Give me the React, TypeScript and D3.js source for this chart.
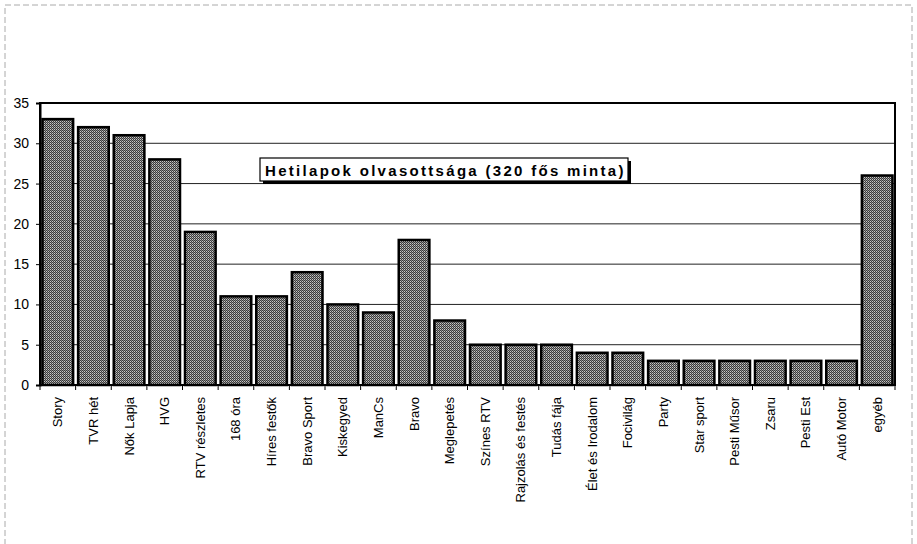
import { useEffect, useRef } from "react";
import * as d3 from "d3";

const categories = [
  "Story", "TVR hét", "Nők Lapja", "HVG", "RTV részletes", "168 óra",
  "Híres festők", "Bravo Sport", "Kiskegyed", "ManCs", "Bravo", "Meglepetés",
  "Színes RTV", "Rajzolás és festés", "Tudás fája", "Élet és Irodalom",
  "Focivilág", "Party", "Star sport", "Pesti Műsor", "Zsaru", "Pesti Est",
  "Autó Motor", "egyéb",
];
const readers = [33, 32, 31, 28, 19, 11, 11, 14, 10, 9, 18, 8, 5, 5, 5, 4, 4, 3, 3, 3, 3, 3, 3, 26];
const yTicks = [0, 5, 10, 15, 20, 25, 30, 35];
const title = "Hetilapok olvasottsága (320 fős minta)";

export default function App() {
  const ref = useRef<SVGSVGElement>(null);

  useEffect(() => {
    const width = 917, height = 544;
    const margin = { left: 40, right: 22, top: 103, bottom: 159 };
    const w = width - margin.left - margin.right;
    const h = height - margin.top - margin.bottom;

    const svg = d3.select(ref.current);
    svg.selectAll("*").remove();

    const defs = svg.append("defs");
    const pat = defs.append("pattern")
      .attr("id", "dither")
      .attr("width", 2).attr("height", 2)
      .attr("patternUnits", "userSpaceOnUse");
    pat.append("rect").attr("width", 2).attr("height", 2).attr("fill", "#3a3a3a");
    pat.append("rect").attr("width", 1).attr("height", 1).attr("fill", "#c8c8c8");
    pat.append("rect").attr("x", 1).attr("y", 1).attr("width", 1).attr("height", 1).attr("fill", "#8a8a8a");

    // faint outer frame of the scanned page
    svg.append("rect")
      .attr("x", 5).attr("y", 5)
      .attr("width", 907).attr("height", 560)
      .attr("fill", "none")
      .attr("stroke", "#aaa")
      .attr("stroke-dasharray", "6,3");

    const g = svg.append("g").attr("transform", `translate(${margin.left},${margin.top})`);

    const x = d3.scaleBand().domain(categories).range([0, w]).padding(0);
    const y = d3.scaleLinear().domain([0, 35]).range([h, 0]);

    // gridlines
    g.selectAll(".grid")
      .data(yTicks.filter(t => t > 0 && t < 35))
      .enter()
      .append("line")
      .attr("x1", 0).attr("x2", w)
      .attr("y1", d => y(d)).attr("y2", d => y(d))
      .attr("stroke", "#222")
      .attr("stroke-width", 1);

    const barW = x.bandwidth() * 0.86;
    g.selectAll(".bar")
      .data(readers)
      .enter()
      .append("rect")
      .attr("x", (d, i) => x(categories[i])! + (x.bandwidth() - barW) / 2)
      .attr("y", d => y(d))
      .attr("width", barW)
      .attr("height", d => y(0) - y(d))
      .attr("fill", "url(#dither)")
      .attr("stroke", "#000")
      .attr("stroke-width", 2.5);

    // plot frame
    g.append("rect")
      .attr("x", 0).attr("y", 0)
      .attr("width", w).attr("height", h)
      .attr("fill", "none")
      .attr("stroke", "#000")
      .attr("stroke-width", 2);

    // y axis
    const yAxis = d3.axisLeft(y).tickValues(yTicks).tickSize(4).tickPadding(7);
    const ya = g.append("g").call(yAxis);
    ya.select(".domain").attr("stroke", "#000").attr("stroke-width", 2);
    ya.selectAll("text")
      .attr("font-family", "Liberation Sans, Arial, sans-serif")
      .attr("font-size", 14)
      .attr("fill", "#000");

    // x axis: ticks at band boundaries
    const xa = g.append("g").attr("transform", `translate(0,${h})`);
    xa.append("line").attr("x1", 0).attr("x2", w).attr("stroke", "#000").attr("stroke-width", 2);
    xa.selectAll(".tick")
      .data(categories.concat([""]))
      .enter()
      .append("line")
      .attr("x1", (d, i) => (i < categories.length ? x(d)! : w))
      .attr("x2", (d, i) => (i < categories.length ? x(d)! : w))
      .attr("y1", 0).attr("y2", 5)
      .attr("stroke", "#000");
    xa.selectAll(".lbl")
      .data(categories)
      .enter()
      .append("text")
      .attr("transform", d => `translate(${x(d)! + x.bandwidth() / 2 + 4.5},12) rotate(-90)`)
      .attr("text-anchor", "end")
      .attr("font-family", "Liberation Sans, Arial, sans-serif")
      .attr("font-size", 13)
      .attr("fill", "#000")
      .text(d => d);

    // title box
    const tb = { x: 260, y: 158, w: 368, h: 23 };
    svg.append("rect")
      .attr("x", tb.x + 3).attr("y", tb.y + 3)
      .attr("width", tb.w).attr("height", tb.h)
      .attr("fill", "#000");
    svg.append("rect")
      .attr("x", tb.x).attr("y", tb.y)
      .attr("width", tb.w).attr("height", tb.h)
      .attr("fill", "#fff")
      .attr("stroke", "#000")
      .attr("stroke-width", 1.2);
    svg.append("text")
      .attr("x", tb.x + 5).attr("y", tb.y + 17.5)
      .attr("font-family", "Liberation Sans, Arial, sans-serif")
      .attr("font-size", 15)
      .attr("font-weight", "bold")
      .attr("letter-spacing", 2.3)
      .attr("fill", "#000")
      .text(title);
  }, []);

  return (
    <svg ref={ref} width={917} height={544} style={{ position: "absolute", left: 0, top: 0, background: "#fff" }} />
  );
}
